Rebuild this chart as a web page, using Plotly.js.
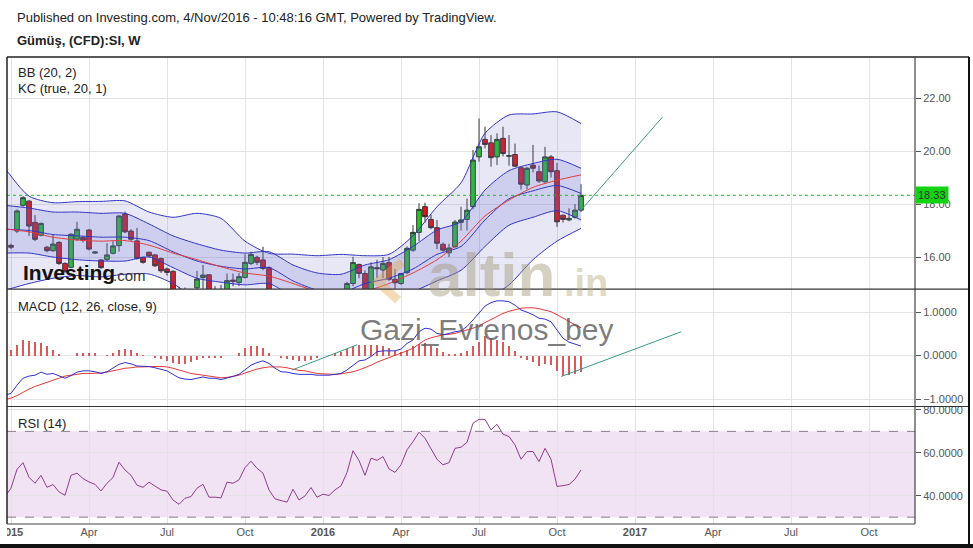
<!DOCTYPE html>
<html><head><meta charset="utf-8">
<script src="https://cdn.plot.ly/plotly-3.0.1.min.js"></script>
<style>html,body{margin:0;padding:0;background:#fff;}#chart{width:973px;height:548px;}</style>
</head><body><div id="chart"></div>
<script>
// ---- data (weekly bars, first bar = week of 2015-01-05) ----
const firstWeek = '2015-01-05';
const open  = [16.44,16.98,17.95,18.11,17.31,16.82,16.37,16.24,16.55,15.76,15.61,16.67,16.74,17.02,16.15,15.89,15.91,16.14,16.43,17.62,16.98,16.61,15.99,16.18,16.08,15.94,15.55,15.46,14.70,14.75,14.60,14.84,15.23,15.33,14.65,14.55,14.50,15.13,15.04,15.23,15.76,15.99,15.89,15.60,14.70,14.25,14.10,14.05,14.50,13.90,13.95,14.30,13.85,13.95,13.90,14.15,14.30,15.00,15.72,15.38,14.70,15.60,15.51,15.79,15.16,15.00,15.41,16.26,16.93,17.90,17.42,17.11,16.48,16.16,16.39,17.31,17.42,17.90,19.78,20.44,20.31,19.78,20.48,19.80,19.87,19.37,18.72,19.47,19.22,18.84,19.78,19.26,17.58,17.40,17.50,17.77];
const high  = [16.50,17.80,18.30,18.15,17.58,17.30,16.42,16.83,16.60,15.80,16.90,17.33,16.78,17.05,16.21,15.92,16.52,16.60,17.58,17.71,17.05,17.10,16.02,16.20,16.10,15.98,15.60,15.50,14.88,14.85,14.76,15.48,15.70,15.36,14.90,14.95,15.38,15.38,15.40,16.10,16.20,16.05,16.39,15.65,14.78,14.35,14.30,14.65,14.60,14.30,14.45,14.40,14.20,14.15,14.30,14.50,15.07,16.01,15.75,15.50,15.80,15.90,16.00,16.00,15.55,15.40,16.40,17.21,18.03,18.05,17.60,17.40,16.55,16.50,17.40,17.90,18.21,20.04,21.23,20.92,20.60,20.67,20.92,20.60,20.28,19.40,19.40,20.23,19.45,20.16,19.85,19.55,17.60,17.84,18.00,18.75];
const low   = [16.30,16.90,17.90,16.80,16.60,16.78,16.18,16.20,15.70,15.40,15.58,16.62,16.55,16.25,16.12,15.55,15.85,16.10,16.20,16.90,16.60,15.90,15.75,16.00,15.62,15.40,15.30,14.60,14.50,14.30,14.40,14.70,14.80,14.55,14.30,14.40,14.40,14.90,14.90,15.20,15.70,15.70,15.50,14.60,14.10,13.90,13.95,13.90,13.80,13.70,13.90,13.70,13.70,13.60,13.80,14.00,14.20,14.90,15.20,14.60,14.60,15.20,15.20,15.10,14.80,14.95,15.35,16.20,16.60,17.30,17.05,16.30,16.20,16.00,16.35,17.00,17.00,17.80,19.60,20.10,19.41,19.47,19.80,19.45,19.40,18.55,18.55,19.20,18.80,18.80,19.00,17.14,17.30,17.35,17.45,17.70];
const close = [16.37,17.74,18.24,17.17,16.67,17.27,16.24,16.49,15.76,15.45,16.86,17.05,16.64,16.30,16.19,15.60,16.08,16.42,17.55,16.95,16.67,15.95,15.80,16.04,15.67,15.48,15.42,14.70,14.75,14.60,14.70,15.17,15.32,14.65,14.55,14.50,15.11,15.08,15.26,15.80,16.10,15.80,15.57,14.70,14.25,14.10,14.05,14.50,13.90,13.95,14.30,13.85,13.95,13.90,14.15,14.30,15.00,15.79,15.38,14.70,15.63,15.56,15.76,15.16,15.03,15.38,16.33,16.93,17.80,17.52,17.11,16.52,16.26,16.34,17.32,17.40,17.77,19.66,20.16,20.25,19.75,20.44,19.91,19.83,19.43,18.75,19.35,19.35,18.87,19.78,19.22,17.33,17.42,17.46,17.77,18.33];
const lastPrice = 18.33;

// band samples (bar index, -1 = week before first bar)
const bandIdx  = [-1,3,7,11,15,19,23,27,31,35,39,43,47,51,55,59,63,67,71,75,79,83,87,91,95];
const bbUpper  = [19.35,18.30,18.05,18.09,18.10,18.12,17.70,17.50,17.65,17.46,16.60,16.14,16.11,16.05,16.10,16.05,16.10,16.80,17.90,18.80,20.67,21.36,21.40,21.48,21.04];
const bbBasis  = [17.06,16.95,16.75,16.64,16.60,16.62,16.45,16.15,15.90,15.63,15.40,15.28,15.00,14.70,14.50,14.70,15.00,15.40,15.90,16.60,17.55,18.15,18.63,18.90,19.10];
const bbLower  = [14.75,15.00,15.20,15.30,15.25,15.35,15.36,15.00,14.40,14.20,14.20,14.40,14.00,13.50,13.30,13.50,13.90,14.00,13.90,14.40,14.40,14.95,15.90,16.60,17.08];
const kcUpper  = [17.95,17.85,17.70,17.70,17.65,17.65,17.25,16.80,16.50,16.26,16.15,16.20,15.70,15.40,15.35,15.70,15.90,16.40,17.02,17.33,18.53,19.26,19.53,19.69,19.35];
const kcBasis  = [17.05,17.00,16.85,16.80,16.75,16.75,16.62,16.20,15.85,15.65,15.55,15.60,15.10,14.75,14.65,15.00,15.20,15.55,16.10,16.40,17.40,18.20,18.50,18.70,18.40];
const kcLower  = [16.15,16.15,16.00,15.90,15.85,15.85,16.00,15.60,15.20,15.05,14.95,15.00,14.50,14.10,13.95,14.30,14.50,14.70,15.10,15.50,16.40,17.20,17.50,17.75,17.40];

// MACD (12,26,close,9), index -1..95
const macdLine = [-0.91,-0.87,-0.68,-0.52,-0.47,-0.45,-0.38,-0.43,-0.41,-0.46,-0.52,-0.46,-0.38,-0.35,-0.35,-0.37,-0.41,-0.37,-0.29,-0.20,-0.16,-0.19,-0.24,-0.25,-0.25,-0.28,-0.31,-0.35,-0.43,-0.51,-0.54,-0.55,-0.52,-0.49,-0.52,-0.52,-0.55,-0.52,-0.48,-0.43,-0.33,-0.22,-0.16,-0.12,-0.18,-0.29,-0.37,-0.38,-0.41,-0.43,-0.43,-0.43,-0.45,-0.45,-0.45,-0.43,-0.41,-0.33,-0.22,-0.12,-0.10,-0.02,0.09,0.11,0.11,0.11,0.15,0.28,0.36,0.55,0.63,0.61,0.51,0.48,0.51,0.55,0.57,0.67,0.82,0.98,1.14,1.22,1.26,1.26,1.24,1.16,1.05,1.00,0.94,0.86,0.84,0.78,0.58,0.40,0.31,0.26,0.22];
const macdSignal = [-1.00,-0.98,-0.92,-0.84,-0.77,-0.71,-0.66,-0.61,-0.56,-0.51,-0.47,-0.45,-0.43,-0.41,-0.41,-0.41,-0.40,-0.38,-0.35,-0.31,-0.29,-0.28,-0.26,-0.26,-0.25,-0.25,-0.25,-0.26,-0.29,-0.33,-0.37,-0.41,-0.43,-0.45,-0.47,-0.50,-0.51,-0.50,-0.48,-0.45,-0.40,-0.35,-0.31,-0.28,-0.26,-0.26,-0.26,-0.28,-0.31,-0.34,-0.35,-0.38,-0.41,-0.42,-0.43,-0.43,-0.42,-0.40,-0.37,-0.33,-0.28,-0.22,-0.15,-0.10,-0.05,0.00,0.05,0.11,0.17,0.26,0.36,0.41,0.44,0.48,0.49,0.51,0.55,0.59,0.63,0.69,0.76,0.84,0.91,0.97,1.02,1.06,1.09,1.10,1.10,1.08,1.05,1.01,0.94,0.86,0.78,0.71,0.64];
// histogram, index 0..95
const macdHist = [0.13,0.25,0.36,0.34,0.31,0.28,0.21,0.13,0.03,-0.02,0.00,0.05,0.07,0.07,0.05,0.00,0.02,0.05,0.12,0.15,0.13,0.05,0.02,0.00,-0.05,-0.08,-0.12,-0.18,-0.20,-0.19,-0.14,-0.10,-0.06,-0.06,-0.05,-0.05,-0.02,0.00,0.05,0.17,0.21,0.22,0.17,0.05,0.00,-0.05,-0.08,-0.11,-0.12,-0.12,-0.11,-0.06,-0.02,0.02,0.05,0.09,0.15,0.23,0.25,0.25,0.25,0.25,0.23,0.17,0.11,0.09,0.13,0.21,0.26,0.28,0.23,0.17,0.09,0.04,0.03,0.05,0.11,0.21,0.32,0.44,0.40,0.36,0.31,0.23,0.11,-0.05,-0.10,-0.15,-0.23,-0.20,-0.22,-0.35,-0.46,-0.45,-0.43,-0.38];

// RSI(14), index -1..95
const rsi = [39.6,43.5,52.3,55.4,48.6,45.8,49.5,43.9,45.2,41.8,40.2,49.5,50.5,48.0,46.4,45.3,42.2,45.8,48.5,55.6,52.0,49.5,44.9,43.9,46.3,44.3,42.7,42.1,38.0,36.0,38.8,39.6,43.5,45.3,39.3,39.3,39.0,46.3,45.8,47.4,53.1,56.1,52.8,50.5,42.7,38.5,37.6,37.0,43.0,38.0,39.9,43.8,39.3,40.7,40.1,42.7,44.6,50.8,61.0,56.4,49.5,57.5,56.5,58.2,52.5,50.9,54.4,61.4,65.2,69.6,66.8,62.1,57.0,54.4,55.4,62.1,62.6,64.9,73.8,75.6,75.6,70.7,73.3,68.7,67.6,63.7,57.0,60.6,60.6,55.9,62.1,57.0,44.3,44.7,45.2,47.7,52.0];

// drawn trend lines (date, value)
const trendPriceX = ['2016-10-31','2017-02-03'];
const trendPriceY = [17.77, 21.28];
const trendMacd1X = ['2015-11-29','2016-02-13'];
const trendMacd1Y = [-0.33, 0.25];
const trendMacd2X = ['2016-10-08','2017-02-25'];
const trendMacd2Y = [-0.48, 0.55];

// axis labels
const tickDates = ['2015-01-05','2015-04-06','2015-07-06','2015-10-05','2016-01-04','2016-04-04','2016-07-04','2016-10-03','2017-01-02','2017-04-03','2017-07-03','2017-10-02'];
const tickLabels = ['<b>2015</b>','Apr','Jul','Oct','<b>2016</b>','Apr','Jul','Oct','<b>2017</b>','Apr','Jul','Oct'];
const priceTicks = [16,18,20,22];
const macdTicks = [-1,0,1];
const rsiTicks = [40,60,80];

// ---- helpers ----
const DAY = 86400000;
const t0 = Date.parse(firstWeek + 'T00:00:00Z');
const wk = i => new Date(t0 + i*7*DAY).toISOString().slice(0,10);
const barDates = open.map((_, i) => wk(i));
const bandDates = bandIdx.map(wk);
const indDates = rsi.map((_, k) => wk(k - 1));

const F = 'Liberation Sans, Arial, sans-serif';
const BLUE = '#3434c4';

function bandLine(y, color, fill, fillcolor) {
  return {type:'scatter', mode:'lines', x:bandDates, y:y, xaxis:'x', yaxis:'y',
    line:{color:color, width:1, shape:'spline', smoothing:0.7}, fill:fill||'none',
    fillcolor:fillcolor, hoverinfo:'skip', showlegend:false};
}

const traces = [
  bandLine(bbLower, BLUE),
  bandLine(bbUpper, BLUE, 'tonexty', 'rgba(110,110,200,0.17)'),
  bandLine(kcLower, BLUE),
  bandLine(kcUpper, BLUE, 'tonexty', 'rgba(110,110,210,0.20)'),
  bandLine(kcBasis, BLUE),
  bandLine(bbBasis, '#e23c3c'),
  {type:'candlestick', x:barDates, open:open, high:high, low:low, close:close, xaxis:'x', yaxis:'y',
    increasing:{line:{color:'#2e3a2e', width:1}, fillcolor:'#26c426'},
    decreasing:{line:{color:'#3a2a2a', width:1}, fillcolor:'#e01414'},
    showlegend:false, hoverinfo:'skip'},
  {type:'scatter', mode:'lines', x:trendPriceX, y:trendPriceY, xaxis:'x', yaxis:'y',
    line:{color:'#3a9a88', width:1}, showlegend:false, hoverinfo:'skip'},
  // MACD
  {type:'bar', x:barDates, y:macdHist, xaxis:'x', yaxis:'y2', width:1.3*DAY,
    marker:{color:'#d85a5a', line:{width:0}}, showlegend:false, hoverinfo:'skip'},
  {type:'scatter', mode:'lines', x:indDates, y:macdSignal, xaxis:'x', yaxis:'y2',
    line:{color:'#e33a3a', width:1}, showlegend:false, hoverinfo:'skip'},
  {type:'scatter', mode:'lines', x:indDates, y:macdLine, xaxis:'x', yaxis:'y2',
    line:{color:'#3030d0', width:1}, showlegend:false, hoverinfo:'skip'},
  {type:'scatter', mode:'lines', x:trendMacd1X, y:trendMacd1Y, xaxis:'x', yaxis:'y2',
    line:{color:'#3a9a88', width:1}, showlegend:false, hoverinfo:'skip'},
  {type:'scatter', mode:'lines', x:trendMacd2X, y:trendMacd2Y, xaxis:'x', yaxis:'y2',
    line:{color:'#3a9a88', width:1}, showlegend:false, hoverinfo:'skip'},
  // RSI
  {type:'scatter', mode:'lines', x:indDates, y:rsi, xaxis:'x', yaxis:'y3',
    line:{color:'#8a3f8a', width:1}, showlegend:false, hoverinfo:'skip'}
];

// pixel -> paper helpers (plot area 7..915 x 57..524)
const px = v => (v - 7) / 908;
const py = v => (524 - v) / 467;

const yCommon = {side:'right', showline:false, zeroline:false, gridcolor:'#e3e3e3', gridwidth:1,
  ticks:'outside', ticklen:5, tickcolor:'#555', tickfont:{family:F, size:11, color:'#555'}, fixedrange:true};

const coinPath = 'M ' + px(402) + ' ' + py(262) + ' L ' + px(378) + ' ' + py(282) + ' L ' + px(398) + ' ' + py(300);

const layout = {
  width:973, height:548, margin:{l:7, r:58, t:57, b:24},
  paper_bgcolor:'#ffffff', plot_bgcolor:'#ffffff', showlegend:false, bargap:0,
  boxgap:0.22, boxgroupgap:0,
  xaxis:{type:'date', range:['2014-12-31 08:00','2017-11-24 16:00'], anchor:'y3',
    tickvals:tickDates, ticktext:tickLabels, showgrid:true, gridcolor:'#e3e3e3', zeroline:false,
    showline:false, ticks:'', ticklabeloverflow:'allow', tickfont:{family:F, size:11, color:'#555'},
    rangeslider:{visible:false}, fixedrange:true},
  yaxis: Object.assign({}, yCommon, {domain:[0.503,1], range:[14.79,23.55], tickvals:priceTicks, tickformat:'.2f'}),
  yaxis2:Object.assign({}, yCommon, {domain:[0.2516,0.503], range:[-1.17,1.53], tickvals:macdTicks, tickformat:'.4f'}),
  yaxis3:Object.assign({}, yCommon, {domain:[0,0.2516], range:[26.8,81.6], tickvals:rsiTicks, tickformat:'.4f'}),
  shapes:[
    {type:'rect', xref:'paper', yref:'y3', x0:0, x1:1, y0:30, y1:70, fillcolor:'#f1e3f3', line:{width:0}, layer:'below'},
    {type:'line', xref:'paper', yref:'y3', x0:0, x1:1, y0:70, y1:70, line:{color:'#8a7a8a', width:1, dash:'dash'}},
    {type:'line', xref:'paper', yref:'y3', x0:0, x1:1, y0:30, y1:30, line:{color:'#8a7a8a', width:1, dash:'dash'}},
    {type:'line', xref:'paper', yref:'y', x0:0, x1:1, y0:lastPrice, y1:lastPrice, line:{color:'#1fbf1f', width:1, dash:'dot'}},
    {type:'path', xref:'paper', yref:'paper', path:coinPath, line:{color:'rgba(225,165,70,0.40)', width:9}},
    // frame
    {type:'rect', xref:'paper', yref:'paper', x0:px(0), x1:px(7), y0:py(545), y1:py(525), fillcolor:'#ffffff', line:{width:0}},
    {type:'line', xref:'paper', yref:'paper', x0:0, x1:px(969), y0:1, y1:1, line:{color:'#222', width:1.5}},
    {type:'line', xref:'paper', yref:'paper', x0:0, x1:0, y0:0, y1:1, line:{color:'#222', width:1.5}},
    {type:'line', xref:'paper', yref:'paper', x0:1, x1:1, y0:0, y1:1, line:{color:'#444', width:1.2}},
    {type:'line', xref:'paper', yref:'paper', x0:0, x1:px(969), y0:0.503, y1:0.503, line:{color:'#333', width:1.2}},
    {type:'line', xref:'paper', yref:'paper', x0:0, x1:px(969), y0:0.2516, y1:0.2516, line:{color:'#333', width:1.2}},
    {type:'line', xref:'paper', yref:'paper', x0:0, x1:1, y0:0, y1:0, line:{color:'#444', width:1.2}},
    {type:'line', xref:'paper', yref:'paper', x0:px(969), x1:px(969), y0:py(546), y1:1, line:{color:'#111', width:2}},
    {type:'line', xref:'paper', yref:'paper', x0:px(0), x1:px(973), y0:py(546), y1:py(546), line:{color:'#111', width:4}}
  ],
  annotations:[
    {xref:'paper', yref:'paper', x:px(15), y:py(17), xanchor:'left', yanchor:'middle', showarrow:false,
      text:'Published on Investing.com, 4/Nov/2016 - 10:48:16 GMT, Powered by TradingView.', font:{family:F, size:13, color:'#222'}},
    {xref:'paper', yref:'paper', x:px(15), y:py(41), xanchor:'left', yanchor:'middle', showarrow:false,
      text:'<b>Gümüş, (CFD):SI, W</b>', font:{family:F, size:13, color:'#222'}},
    {xref:'paper', yref:'paper', x:px(16), y:py(72), xanchor:'left', yanchor:'middle', showarrow:false,
      text:'BB (20, 2)', font:{family:F, size:13, color:'#222'}},
    {xref:'paper', yref:'paper', x:px(16), y:py(89), xanchor:'left', yanchor:'middle', showarrow:false,
      text:'KC (true, 20, 1)', font:{family:F, size:13, color:'#222'}},
    {xref:'paper', yref:'paper', x:px(16), y:py(306), xanchor:'left', yanchor:'middle', showarrow:false,
      text:'MACD (12, 26, close, 9)', font:{family:F, size:13, color:'#222'}},
    {xref:'paper', yref:'paper', x:px(16), y:py(423), xanchor:'left', yanchor:'middle', showarrow:false,
      text:'RSI (14)', font:{family:F, size:13, color:'#222'}},
    {xref:'paper', yref:'y', x:1, y:lastPrice, xanchor:'left', yanchor:'middle', showarrow:false,
      text:'18.33', bgcolor:'#12d312', borderpad:2, font:{family:F, size:11, color:'#333'}},
    {xref:'paper', yref:'paper', x:px(21), y:py(272), xanchor:'left', yanchor:'middle', showarrow:false,
      text:'<b>Investing</b>', font:{family:F, size:21, color:'#111'}},
    {xref:'paper', yref:'paper', x:px(111), y:py(275), xanchor:'left', yanchor:'middle', showarrow:false,
      text:'.com', font:{family:F, size:15, color:'#333'}},
    {xref:'paper', yref:'paper', x:px(426), y:py(274), xanchor:'left', yanchor:'middle', showarrow:false,
      text:'<b>altin</b>', font:{family:F, size:62, color:'rgba(160,150,120,0.45)'}},
    {xref:'paper', yref:'paper', x:px(562), y:py(283), xanchor:'left', yanchor:'middle', showarrow:false,
      text:'<b>.in</b>', font:{family:F, size:38, color:'rgba(185,170,125,0.45)'}},
    {xref:'paper', yref:'paper', x:px(358), y:py(329), xanchor:'left', yanchor:'middle', showarrow:false,
      text:'Gazi_Evrenos_bey', font:{family:F, size:30, color:'rgba(90,90,90,0.8)'}}
  ]
};

Plotly.newPlot('chart', traces, layout, {staticPlot:true, displayModeBar:false});
</script></body></html>
